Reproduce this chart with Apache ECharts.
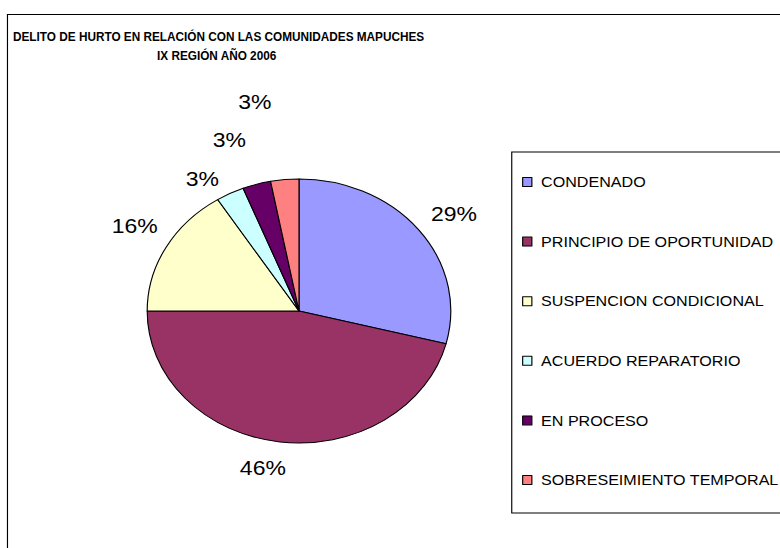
<!DOCTYPE html>
<html>
<head>
<meta charset="utf-8">
<title>Delito de hurto</title>
<script src="https://cdn.jsdelivr.net/npm/echarts@6/dist/echarts.min.js"></script>
<style>
	body { margin: 0; background: #fff; }
	/* the original picture is stretched horizontally (ellipse pie) */
	#main { width: 679px; height: 548px; transform: scaleX(1.15); transform-origin: 0 0; }
</style>
</head>
<body>
<div id="main"></div>
<script>
	var categories = ['CONDENADO', 'PRINCIPIO DE OPORTUNIDAD', 'SUSPENCION CONDICIONAL', 'ACUERDO REPARATORIO', 'EN PROCESO', 'SOBRESEIMIENTO TEMPORAL'];
	var percentages = [29, 46, 16, 3, 3, 3];
	var sliceColors = ['#9999FF', '#993366', '#FFFFCC', '#CCFFFF', '#660066', '#FF8080'];
	// small nudges so the labels sit like in the original
	var labelOffsets = [[6, 3], [-11, -5], [0, -6], [-10, 13], [-15, -14], [-23, -47]];

	var font = '"Liberation Sans", Arial, sans-serif';
	var titleFont = 'bold 13.5px "Liberation Sans", Arial, sans-serif';

	var pieData = [];
	var labelData = [];
	for (var i = 0; i < categories.length; i++) {
		pieData.push({
			name: categories[i],
			value: percentages[i],
			itemStyle: { color: sliceColors[i] }
		});
		labelData.push({
			name: categories[i],
			value: percentages[i],
			label: { offset: labelOffsets[i] }
		});
	}

	var dom = document.getElementById('main');
	var myChart = echarts.init(dom, null, { renderer: 'svg' });

	option = {
		animation: false,
		backgroundColor: '#fff',
		graphic: [{
			type: 'rect',
			shape: { x: 6.5, y: 14.5, width: 800, height: 600 },
			style: { fill: 'none', stroke: '#000', lineWidth: 1 },
			silent: true
		}, {
			// titulo (letra angosta como el original)
			type: 'text',
			x: 11.3,
			y: 37,
			scaleX: 0.76,
			silent: true,
			style: {
				text: 'DELITO DE HURTO EN RELACIÓN CON LAS COMUNIDADES MAPUCHES',
				font: titleFont,
				fill: '#000',
				textVerticalAlign: 'middle'
			}
		}, {
			type: 'text',
			x: 136.5,
			y: 56,
			scaleX: 0.76,
			silent: true,
			style: {
				text: 'IX REGIÓN AÑO 2006',
				font: titleFont,
				fill: '#000',
				textVerticalAlign: 'middle'
			}
		}],
		legend: {
			orient: 'vertical',
			left: 445,
			top: 152,
			padding: [23, 40, 26, 9],
			itemGap: 45.6,
			itemWidth: 8,
			itemHeight: 9,
			icon: 'rect',
			borderColor: '#000',
			borderWidth: 1,
			itemStyle: { borderColor: '#000', borderWidth: 1 },
			textStyle: { fontFamily: font, fontSize: 14, lineHeight: 14, color: '#000', padding: [0, 0, 0, 3] },
			data: categories
		},
		series: [{
			type: 'pie',
			center: [260, 311],
			radius: 132,
			startAngle: 90,
			clockwise: true,
			label: { show: false },
			labelLine: { show: false },
			itemStyle: { borderColor: '#000', borderWidth: 1 },
			emphasis: { disabled: true },
			data: pieData
		}, {
			// solo etiquetas
			type: 'pie',
			center: [260, 311],
			radius: [150, 170],
			startAngle: 90,
			clockwise: true,
			silent: true,
			itemStyle: { color: 'rgba(0,0,0,0)', borderWidth: 0 },
			label: {
				show: true,
				position: 'inside',
				formatter: '{c}%',
				fontFamily: font,
				fontSize: 20,
				color: '#000'
			},
			labelLine: { show: false },
			emphasis: { disabled: true },
			data: labelData
		}]
	};

	if (option && typeof option === "object") {
		myChart.setOption(option, true);
	}
</script>
</body>
</html>
